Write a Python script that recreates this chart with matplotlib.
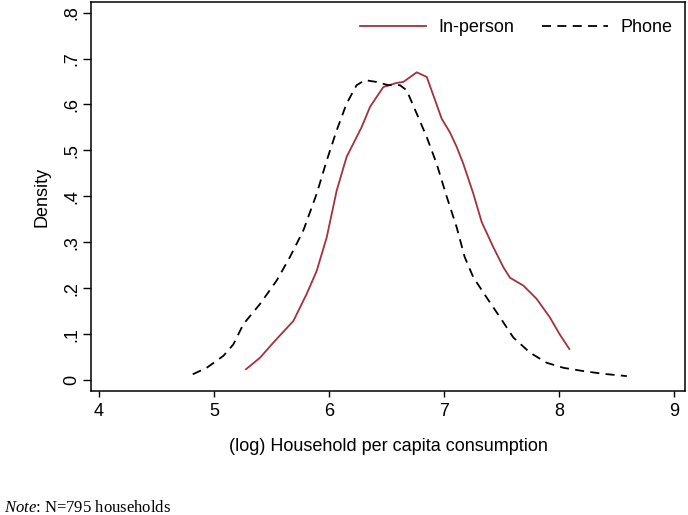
import matplotlib
matplotlib.use("Agg")
import matplotlib.pyplot as plt
import numpy as np

# In-person density curve
inp_x = [5.278, 5.40, 5.516, 5.69, 5.806, 5.893, 5.98, 6.067, 6.153, 6.284, 6.357, 6.472,
         6.588, 6.646, 6.763, 6.85, 6.98, 7.05, 7.11, 7.168, 7.255, 7.328, 7.43, 7.516,
         7.574, 7.69, 7.806, 7.92, 8.006, 8.09]
inp_y = [0.024, 0.049, 0.082, 0.129, 0.188, 0.238, 0.311, 0.413, 0.486, 0.551, 0.595, 0.638,
         0.647, 0.649, 0.670, 0.660, 0.569, 0.540, 0.508, 0.471, 0.406, 0.344, 0.289, 0.246,
         0.223, 0.206, 0.177, 0.137, 0.100, 0.068]

# Phone density curve
ph_x = [4.815, 4.936, 5.081, 5.168, 5.255, 5.40, 5.545, 5.66, 5.777, 5.893, 5.98, 6.067,
        6.153, 6.24, 6.313, 6.414, 6.515, 6.617, 6.675, 6.763, 6.85, 6.936, 7.023, 7.11,
        7.18, 7.255, 7.313, 7.371, 7.487, 7.603, 7.748, 7.893, 8.04, 8.21, 8.385, 8.59]
ph_y = [0.013, 0.027, 0.053, 0.078, 0.122, 0.166, 0.217, 0.268, 0.326, 0.406, 0.478, 0.544,
        0.602, 0.642, 0.653, 0.649, 0.642, 0.642, 0.631, 0.580, 0.529, 0.471, 0.400, 0.333,
        0.268, 0.224, 0.202, 0.180, 0.137, 0.093, 0.060, 0.038, 0.027, 0.020, 0.014, 0.009]

x_ticks = [4, 5, 6, 7, 8, 9]
y_ticks = [0, 0.1, 0.2, 0.3, 0.4, 0.5, 0.6, 0.7, 0.8]
y_tick_labels = ["0", ".1", ".2", ".3", ".4", ".5", ".6", ".7", ".8"]

plt.rcParams['font.family'] = ['Liberation Sans', 'DejaVu Sans']
plt.rcParams['mathtext.fontset'] = 'custom'
plt.rcParams['mathtext.it'] = 'Liberation Serif:italic'
plt.rcParams['mathtext.rm'] = 'Liberation Serif'

fig = plt.figure(figsize=(6.88, 5.15), dpi=100)
ax = fig.add_axes([91/688, 1-391/515, (685-91)/688, (391-2)/515])

red = '#A3323A'
ax.plot(inp_x, inp_y, color=red, lw=1.3, label='In-person')
ax.plot(ph_x, ph_y, color='black', lw=1.3, dashes=(5, 3.5), label='Phone')

ax.set_xlim(3.93, 9.096)
ax.set_ylim(-0.0234, 0.823)
ax.set_xticks(x_ticks)
ax.set_xticklabels([str(t) for t in x_ticks], fontsize=13)
ax.set_yticks(y_ticks)
ax.set_yticklabels(y_tick_labels, fontsize=13, rotation=90, va='center')
ax.tick_params(axis='x', direction='out', length=4.6, width=1, colors='black', pad=4)
ax.tick_params(axis='y', direction='out', length=5.6, width=1, colors='black', pad=2)
for s in ax.spines.values():
    s.set_linewidth(1.1)

ax.set_xlabel('(log) Household per capita consumption', fontsize=13, labelpad=13)
ax.set_ylabel('Density', fontsize=13, labelpad=9)

leg = ax.legend(loc='upper right', ncol=2, frameon=False, fontsize=13,
                handlelength=3.65, columnspacing=1.55, handletextpad=0.67,
                bbox_to_anchor=(1.006, 0.997))

fig.text(4/688, 1-508/515, r'$\it{Note}$: N=795 households', family='Liberation Serif',
         fontsize=12, va='center', ha='left')

fig.savefig('out.png', dpi=100)
